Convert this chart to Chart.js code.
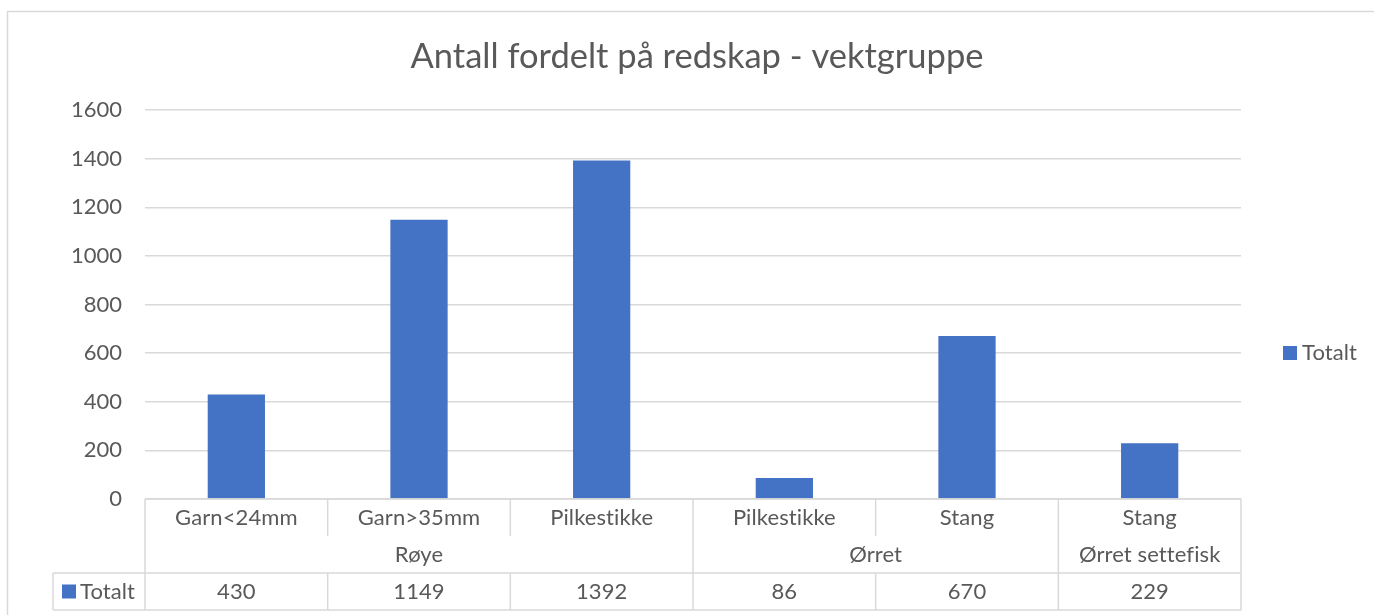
<!DOCTYPE html>
<html><head><meta charset="utf-8">
<script src="https://cdn.jsdelivr.net/npm/chart.js@4.4.1/dist/chart.umd.min.js"></script>
<style>html,body{margin:0;padding:0;background:#fff}canvas{display:block}</style>
</head><body>
<canvas id="c" width="1374" height="615"></canvas>
<script>
const chartTitle = 'Antall fordelt på redskap - vektgruppe';
const categories = ['Garn<24mm', 'Garn>35mm', 'Pilkestikke', 'Pilkestikke', 'Stang', 'Stang'];
const groups = ['Røye', 'Røye', 'Røye', 'Ørret', 'Ørret', 'Ørret settefisk'];
const seriesName = 'Totalt';
const values = [430, 1149, 1392, 86, 670, 229];
const yTicks = [0, 200, 400, 600, 800, 1000, 1200, 1400, 1600];

const FONT = 'Lato, "Open Sans", sans-serif';
const TEXT = '#595959';
const LINE = '#d9d9d9';
const BAR = '#4472C4';
const TXT_SIZE = 22;

const tablePlugin = {
  id: 'tablePlugin',
  beforeDraw(chart) {
    const ctx = chart.ctx;
    ctx.save();
    ctx.fillStyle = '#fff';
    ctx.fillRect(0, 0, chart.width, chart.height);
    ctx.strokeStyle = LINE; ctx.lineWidth = 1.5;
    ctx.beginPath();
    ctx.moveTo(7.5, chart.height); ctx.lineTo(7.5, 11.5); ctx.lineTo(chart.width, 11.5);
    ctx.stroke();
    ctx.restore();
  },
  afterDraw(chart) {
    const ctx = chart.ctx, xs = chart.scales.x, ca = chart.chartArea;
    const n = categories.length;
    const w = (ca.right - ca.left) / n;
    const centers = categories.map((c, i) => xs.getPixelForValue(i));
    const edges = centers.map(c => c - w / 2);
    edges.push(centers[n - 1] + w / 2);
    const r0 = ca.bottom, r1 = r0 + 37, r2 = r0 + 74, r3 = r0 + 111;
    const legL = ca.left - 92;
    const ds = chart.data.datasets[0];

    ctx.save();
    ctx.strokeStyle = LINE; ctx.lineWidth = 1.5;
    const line = (x1, y1, x2, y2) => { ctx.beginPath(); ctx.moveTo(x1, y1); ctx.lineTo(x2, y2); ctx.stroke(); };
    line(edges[0], r0, edges[n], r0);
    line(legL, r2, edges[n], r2);
    line(legL, r3, edges[n], r3);
    line(legL, r2, legL, r3);
    line(edges[0], r0, edges[0], r3);
    line(edges[n], r0, edges[n], r3);
    for (let i = 1; i < n; i++) {
      if (groups[i] !== groups[i - 1]) line(edges[i], r0, edges[i], r3);
      else { line(edges[i], r0, edges[i], r1); line(edges[i], r2, edges[i], r3); }
    }

    ctx.fillStyle = TEXT;
    ctx.font = TXT_SIZE + 'px ' + FONT;
    if ('letterSpacing' in ctx) ctx.letterSpacing = '0.1px';
    ctx.textAlign = 'center'; ctx.textBaseline = 'middle';
    categories.forEach((c, i) => ctx.fillText(c, centers[i], (r0 + r1) / 2));
    ds.data.forEach((v, i) => ctx.fillText(String(v), centers[i], (r2 + r3) / 2));
    let s = 0;
    for (let i = 1; i <= n; i++) {
      if (i === n || groups[i] !== groups[s]) {
        ctx.fillText(groups[s], (edges[s] + edges[i]) / 2, (r1 + r2) / 2);
        s = i;
      }
    }
    // legend key inside table
    ctx.textAlign = 'left';
    ctx.fillStyle = ds.backgroundColor;
    ctx.fillRect(legL + 9, (r2 + r3) / 2 - 7, 14, 14);
    ctx.fillStyle = TEXT;
    ctx.fillText(ds.label, legL + 27, (r2 + r3) / 2);

    // right legend
    const lx = ca.right + 42, ly = 353;
    ctx.fillStyle = ds.backgroundColor;
    ctx.fillRect(lx, ly - 7, 14, 14);
    ctx.fillStyle = TEXT;
    ctx.fillText(ds.label, lx + 19, ly);
    ctx.restore();
  }
};

new Chart(document.getElementById('c'), {
  type: 'bar',
  data: {
    labels: categories,
    datasets: [{
      label: seriesName,
      data: values,
      backgroundColor: BAR,
      borderWidth: 0,
      categoryPercentage: 1,
      barPercentage: 0.3135
    }]
  },
  options: {
    responsive: false,
    animation: false,
    devicePixelRatio: 1,
    layout: { padding: { left: 20, right: 0, top: 0, bottom: 116 } },
    plugins: {
      legend: { display: false },
      tooltip: { enabled: false },
      title: {
        display: true,
        text: chartTitle,
        color: TEXT,
        font: { family: FONT, size: 34.5, weight: 'normal', lineHeight: 1.2 },
        padding: { top: 36, bottom: 32.6 }
      }
    },
    scales: {
      x: { display: false },
      y: {
        min: 0, max: 1600,
        afterBuildTicks: s => { s.ticks = yTicks.map(v => ({ value: v })); },
        afterFit: s => { s.width = 125; },
        ticks: { color: TEXT, font: { family: FONT, size: TXT_SIZE }, padding: 23, callback: v => String(v) },
        grid: { color: LINE, lineWidth: 1.5, drawTicks: false },
        border: { display: false }
      },
      y2: {
        type: 'linear', position: 'right', display: true,
        afterFit: s => { s.width = 133; },
        ticks: { display: false },
        grid: { display: false, drawTicks: false },
        border: { display: false }
      }
    }
  },
  plugins: [tablePlugin]
});
</script>
</body></html>
